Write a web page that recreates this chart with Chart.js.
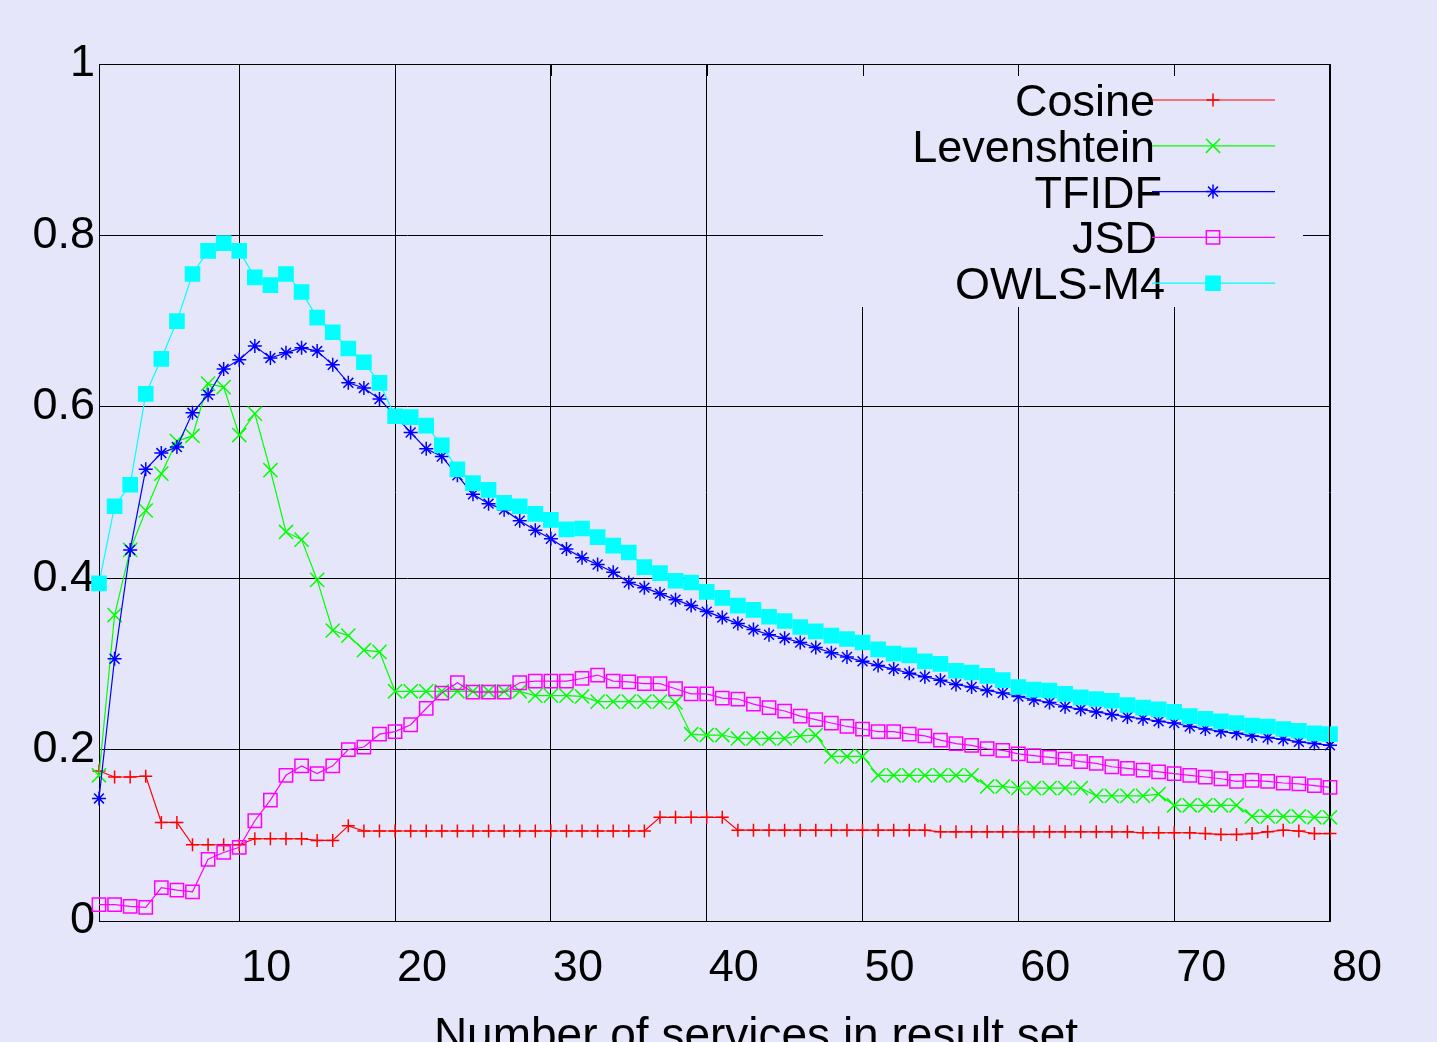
<!DOCTYPE html>
<html lang="en">
<head>
    <meta charset="UTF-8">
    <title>Precision by result set size</title>
    <script src="https://cdn.jsdelivr.net/npm/chart.js"></script>
    <style>
        body {
            margin: 0;
            background: #e6e6fa;
        }
        #wrap {
            width: 1437px;
            height: 1042px;
        }
    </style>
</head>
<body>
<div id="wrap"><canvas id="chart" width="1437" height="1042"></canvas></div>
<script>
    const services = [1, 2, 3, 4, 5, 6, 7, 8, 9, 10, 11, 12, 13, 14, 15, 16, 17, 18, 19, 20,
        21, 22, 23, 24, 25, 26, 27, 28, 29, 30, 31, 32, 33, 34, 35, 36, 37, 38, 39, 40,
        41, 42, 43, 44, 45, 46, 47, 48, 49, 50, 51, 52, 53, 54, 55, 56, 57, 58, 59, 60,
        61, 62, 63, 64, 65, 66, 67, 68, 69, 70, 71, 72, 73, 74, 75, 76, 77, 78, 79, 80];

    const cosine = [0.175, 0.168, 0.168, 0.169, 0.115, 0.115, 0.089, 0.089, 0.089, 0.089,
        0.096, 0.096, 0.096, 0.096, 0.094, 0.094, 0.111, 0.105, 0.105, 0.105,
        0.105, 0.105, 0.105, 0.105, 0.105, 0.105, 0.105, 0.105, 0.105, 0.105,
        0.105, 0.105, 0.105, 0.105, 0.105, 0.105, 0.121, 0.121, 0.121, 0.121,
        0.121, 0.106, 0.106, 0.106, 0.106, 0.106, 0.106, 0.106, 0.106, 0.106,
        0.106, 0.106, 0.106, 0.106, 0.104, 0.104, 0.104, 0.104, 0.104, 0.104,
        0.104, 0.104, 0.104, 0.104, 0.104, 0.104, 0.104, 0.103, 0.103, 0.103,
        0.103, 0.102, 0.101, 0.101, 0.102, 0.104, 0.106, 0.105, 0.102, 0.102];

    const levenshtein = [0.17, 0.357, 0.433, 0.479, 0.522, 0.56, 0.566, 0.627, 0.623, 0.567,
        0.592, 0.526, 0.454, 0.445, 0.398, 0.339, 0.333, 0.316, 0.314, 0.268,
        0.268, 0.268, 0.268, 0.268, 0.268, 0.268, 0.268, 0.268, 0.263, 0.263,
        0.263, 0.262, 0.256, 0.256, 0.256, 0.256, 0.256, 0.255, 0.218, 0.217,
        0.217, 0.213, 0.213, 0.213, 0.213, 0.216, 0.217, 0.192, 0.192, 0.192,
        0.170, 0.170, 0.170, 0.170, 0.170, 0.170, 0.170, 0.157, 0.157, 0.155,
        0.155, 0.155, 0.155, 0.155, 0.146, 0.146, 0.146, 0.146, 0.148, 0.135,
        0.135, 0.135, 0.135, 0.135, 0.122, 0.122, 0.122, 0.122, 0.121, 0.121];

    const tfidf = [0.143, 0.306, 0.433, 0.527, 0.546, 0.553, 0.593, 0.614, 0.644, 0.655,
        0.671, 0.657, 0.663, 0.669, 0.665, 0.649, 0.628, 0.622, 0.609, 0.590,
        0.570, 0.551, 0.542, 0.520, 0.498, 0.487, 0.480, 0.467, 0.456, 0.446,
        0.434, 0.424, 0.416, 0.407, 0.395, 0.389, 0.382, 0.375, 0.368, 0.361,
        0.354, 0.347, 0.340, 0.334, 0.330, 0.325, 0.319, 0.313, 0.308, 0.303,
        0.298, 0.294, 0.289, 0.285, 0.281, 0.276, 0.273, 0.269, 0.266, 0.262,
        0.258, 0.255, 0.250, 0.247, 0.244, 0.241, 0.238, 0.236, 0.233, 0.231,
        0.227, 0.224, 0.221, 0.219, 0.216, 0.214, 0.212, 0.209, 0.207, 0.205];

    const jsd = [0.019, 0.019, 0.017, 0.016, 0.039, 0.036, 0.034, 0.072, 0.080, 0.086,
        0.117, 0.141, 0.170, 0.181, 0.172, 0.181, 0.200, 0.203, 0.218, 0.221,
        0.229, 0.248, 0.266, 0.278, 0.267, 0.267, 0.267, 0.278, 0.280, 0.280,
        0.280, 0.283, 0.287, 0.280, 0.279, 0.277, 0.277, 0.271, 0.265, 0.265,
        0.260, 0.259, 0.253, 0.249, 0.245, 0.239, 0.235, 0.231, 0.227, 0.224,
        0.221, 0.221, 0.218, 0.216, 0.211, 0.207, 0.205, 0.201, 0.199, 0.195,
        0.193, 0.191, 0.189, 0.186, 0.184, 0.180, 0.178, 0.176, 0.174, 0.172,
        0.170, 0.168, 0.166, 0.163, 0.164, 0.163, 0.161, 0.160, 0.158, 0.156];

    const owlsM4 = [0.394, 0.484, 0.509, 0.615, 0.656, 0.700, 0.755, 0.782, 0.791, 0.782,
        0.751, 0.742, 0.755, 0.734, 0.704, 0.687, 0.668, 0.652, 0.628, 0.589,
        0.588, 0.578, 0.555, 0.527, 0.511, 0.503, 0.488, 0.484, 0.475, 0.468,
        0.457, 0.458, 0.448, 0.438, 0.430, 0.413, 0.406, 0.397, 0.395, 0.384,
        0.377, 0.368, 0.363, 0.355, 0.350, 0.343, 0.338, 0.333, 0.329, 0.325,
        0.317, 0.312, 0.310, 0.303, 0.300, 0.292, 0.290, 0.286, 0.281, 0.273,
        0.270, 0.269, 0.265, 0.261, 0.259, 0.257, 0.252, 0.249, 0.247, 0.244,
        0.239, 0.236, 0.233, 0.231, 0.228, 0.227, 0.224, 0.222, 0.219, 0.218];

    const seriesNames = ['Cosine', 'Levenshtein', 'TFIDF', 'JSD', 'OWLS-M4'];
    const xTicks = [10, 20, 30, 40, 50, 60, 70, 80];
    const yTicks = [0, 0.2, 0.4, 0.6, 0.8, 1];
    const yTickLabels = ['0', '0.2', '0.4', '0.6', '0.8', '1'];
    const xTitle = 'Number of services in result set';

    const BG = '#e6e6fa';
    const FONT = "'Liberation Sans', Arial, Helvetica, sans-serif";

    // gnuplot-like point types
    const styles = [
        { color: '#ff0000', point: 'cross', r: 6.5, fill: false },
        { color: '#00ff00', point: 'crossRot', r: 10, fill: false },
        { color: '#0000ff', point: 'star', r: 7, fill: false },
        { color: '#ff00ff', point: 'rect', r: 9.4, fill: false },
        { color: '#00ffff', point: 'rect', r: 10, fill: true }
    ];
    const series = [cosine, levenshtein, tfidf, jsd, owlsM4];

    const datasets = series.map((vals, i) => ({
        label: seriesNames[i],
        data: services.map((x, j) => ({ x: x, y: vals[j] })),
        borderColor: styles[i].color,
        borderWidth: 1.2,
        pointStyle: styles[i].point,
        pointRadius: styles[i].r,
        pointBorderColor: styles[i].color,
        pointBackgroundColor: styles[i].fill ? styles[i].color : 'rgba(0,0,0,0)',
        pointBorderWidth: 1.5,
        tension: 0,
        clip: false,
        order: series.length - i
    }));

    function drawMarker(ctx, s, x, y) {
        const r = s.r;
        const d = r * Math.SQRT1_2;
        ctx.save();
        ctx.strokeStyle = s.color;
        ctx.fillStyle = s.color;
        ctx.lineWidth = 1.5;
        ctx.beginPath();
        if (s.point === 'cross' || s.point === 'star') {
            ctx.moveTo(x - r, y); ctx.lineTo(x + r, y);
            ctx.moveTo(x, y - r); ctx.lineTo(x, y + r);
        }
        if (s.point === 'crossRot' || s.point === 'star') {
            ctx.moveTo(x - d, y - d); ctx.lineTo(x + d, y + d);
            ctx.moveTo(x - d, y + d); ctx.lineTo(x + d, y - d);
        }
        if (s.point === 'rect') {
            ctx.rect(x - d, y - d, 2 * d, 2 * d);
            if (s.fill) ctx.fill();
        }
        ctx.stroke();
        ctx.restore();
    }

    // gnuplot's right-justified key text doesn't line up exactly
    const keyTextRight = [1155, 1155, 1162, 1157, 1165];

    const gnuplotFrame = {
        id: 'gnuplotFrame',
        beforeDatasetsDraw(chart) {
            // the key box hides the grid behind it
            const ctx = chart.ctx;
            ctx.save();
            ctx.fillStyle = BG;
            ctx.fillRect(823, 65, 1303 - 823, 307 - 65);
            ctx.restore();
        },
        afterDraw(chart) {
            const ctx = chart.ctx;
            const a = chart.chartArea;
            const xs = chart.scales.x;
            ctx.save();
            ctx.strokeStyle = '#000';
            ctx.lineWidth = 1;
            ctx.beginPath();
            ctx.moveTo(a.left, a.top + 0.5); ctx.lineTo(a.right, a.top + 0.5);
            ctx.moveTo(a.right - 0.5, a.top); ctx.lineTo(a.right - 0.5, a.bottom);
            xTicks.forEach(v => {
                const px = Math.round(xs.getPixelForValue(v)) + 0.5;
                ctx.moveTo(px, a.top); ctx.lineTo(px, a.top + 12);
            });
            ctx.stroke();

            // key
            ctx.font = '45px ' + FONT;
            ctx.fillStyle = '#000';
            ctx.textAlign = 'right';
            ctx.textBaseline = 'alphabetic';
            seriesNames.forEach((name, i) => {
                const y = 100 + i * 45.8;
                ctx.fillText(name, keyTextRight[i], y + 16);
                ctx.strokeStyle = styles[i].color;
                ctx.lineWidth = 1.2;
                ctx.beginPath();
                ctx.moveTo(1152, y); ctx.lineTo(1275, y);
                ctx.stroke();
                drawMarker(ctx, styles[i], 1213, y);
            });

            // axis title, partly cut by the bottom edge as in the original
            ctx.font = '46px ' + FONT;
            ctx.textAlign = 'center';
            ctx.fillStyle = '#000';
            ctx.fillText(xTitle, 756, 1050);
            ctx.restore();
        }
    };

    new Chart(document.getElementById('chart'), {
        type: 'line',
        data: { datasets: datasets },
        options: {
            responsive: false,
            animation: false,
            layout: { padding: { left: 0, top: 64, right: 107, bottom: 0 } },
            plugins: {
                legend: { display: false },
                tooltip: { enabled: false }
            },
            scales: {
                x: {
                    type: 'linear',
                    min: 1,
                    max: 80,
                    afterBuildTicks: s => { s.ticks = xTicks.map(v => ({ value: v })); },
                    afterFit: s => { s.height = 121; },
                    grid: { color: '#000', lineWidth: 1, drawTicks: false },
                    border: { display: true, color: '#000', width: 1 },
                    ticks: {
                        color: '#000',
                        font: { family: FONT, size: 45 },
                        padding: 21,
                        labelOffset: 27,
                        maxRotation: 0,
                        callback: v => String(v)
                    }
                },
                y: {
                    type: 'linear',
                    min: 0,
                    max: 1,
                    afterBuildTicks: s => { s.ticks = yTicks.map(v => ({ value: v })); },
                    afterFit: s => { s.width = 99; },
                    grid: { color: '#000', lineWidth: 1, drawTicks: false },
                    border: { display: true, color: '#000', width: 1 },
                    ticks: {
                        color: '#000',
                        font: { family: FONT, size: 45 },
                        padding: 4,
                        callback: v => yTickLabels[yTicks.indexOf(v)]
                    }
                }
            }
        },
        plugins: [gnuplotFrame]
    });
</script>
</body>
</html>
